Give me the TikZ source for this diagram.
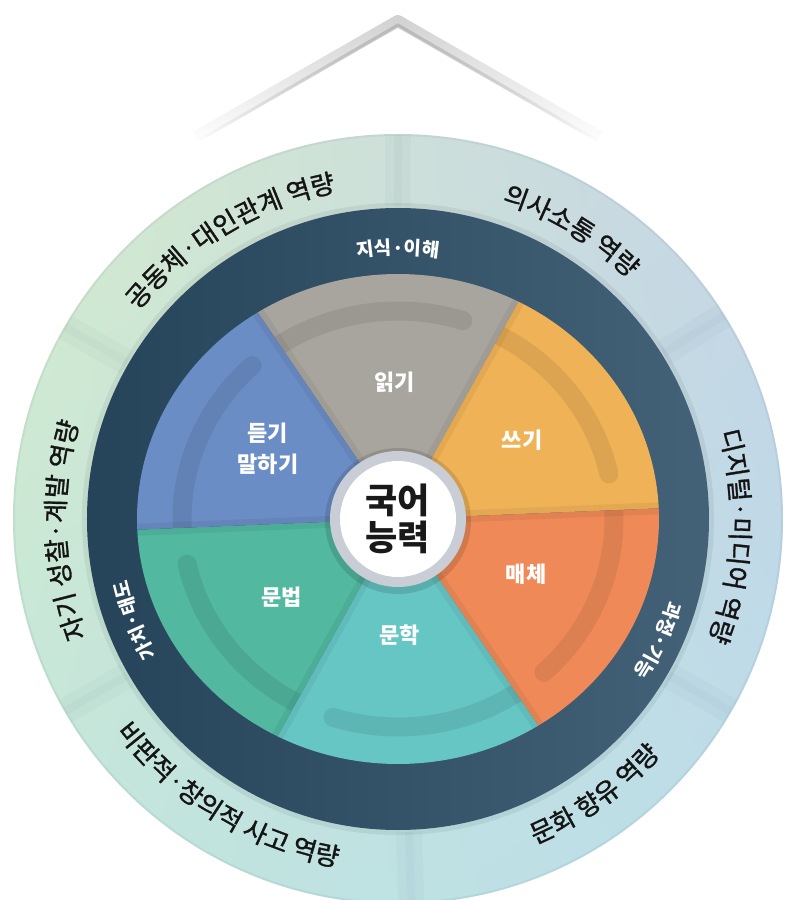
\documentclass[tikz,border=0pt]{standalone}
\usepackage{fontspec}
\usepackage{xcolor}
\usepackage{tikz}
\usetikzlibrary{decorations.text}
\usetikzlibrary{fadings}
\usetikzlibrary{shadings}
\newfontfamily\kr{Noto Sans CJK KR}
\newfontfamily\krm[FakeBold=1.2]{Noto Sans CJK KR}
\definecolor{readc}{HTML}{A8A59E}
\definecolor{writec}{HTML}{EFB257}
\definecolor{mediac}{HTML}{EF8A58}
\definecolor{litc}{HTML}{66C6C4}
\definecolor{gramc}{HTML}{52B8A0}
\definecolor{speakc}{HTML}{6B8DC5}
\definecolor{ringL}{HTML}{25445A}
\definecolor{ringM}{HTML}{3B596E}
\definecolor{ringR}{HTML}{436177}
\definecolor{coreg}{HTML}{C9CDD5}
\definecolor{outUL}{HTML}{D5EBCD}
\definecolor{outUR}{HTML}{C6D4E5}
\definecolor{outLL}{HTML}{C2E6DC}
\definecolor{outLR}{HTML}{BBDDEA}
\tikzfading[name=hangfade, top color=transparent!0, middle color=transparent!15, bottom color=transparent!100]
\newcommand\outerarc[4]{
  \path[decorate, decoration={text along path, text align=center, text color=black!92,
    text={|\krm\fontsize{26}{26}\selectfont|#4}}]
    (#2:#1) arc[start angle=#2, end angle=#3, radius=#1];
}
\newcommand\ringarc[4]{
  \path[decorate, decoration={text along path, text align=center, text color=white,
    text={|\kr\bfseries\fontsize{19}{19}\selectfont|#4}}]
    (#2:#1) arc[start angle=#2, end angle=#3, radius=#1];
}

\begin{document}
\begin{tikzpicture}[x=1pt, y=1pt,
    sector text/.style={text=white, font=\kr\bfseries\fontsize{22}{31}\selectfont, align=center},
    core text/.style={text=black!90, font=\kr\bfseries\fontsize{35}{37}\selectfont, align=center}]
  \useasboundingbox (-398,-381) rectangle (387,519);

  \draw[line width=12pt, black!18, line join=round, path fading=hangfade] (-202,382) -- (0,498) -- (202,382);
  \draw[line width=3pt, black!28, line join=round, path fading=hangfade] (-200,378) -- (0,494) -- (200,378);

  \shade[upper left=outUL, upper right=outUR, lower left=outLL, lower right=outLR] (0,0) circle (385);
  \foreach \a in {90,32,-30,-88,150,210}{
    \draw[line width=26pt, ringM, opacity=.03] (\a:313) -- (\a:384);
    \draw[line width=8pt, ringM, opacity=.03] (\a:313) -- (\a:384);
  }
  \draw[line width=2pt, ringR, opacity=.08] (0,0) circle (384);

  \fill[black, opacity=.06] (0,0) circle (316);
  \shade[left color=ringL, middle color=ringM, right color=ringR] (0,0) circle (311);

  \foreach \b/\col in {122.5/readc, 62.5/writec, 2.5/mediac, -57.5/litc, -117.5/gramc, 182.5/speakc}{
    \begin{scope}
      \clip (0,0) -- (\b-60:261 and 245) arc[start angle=\b-60, end angle=\b, x radius=261, y radius=245] -- cycle;
      \fill[\col] (-262,-262) rectangle (262,262);
      \draw[line width=19pt, line cap=round, black, opacity=.08]
        (\b+8:216 and 208) arc[start angle=\b+8, end angle=\b-50, x radius=216, y radius=208];
      \draw[line width=12pt, black, opacity=.05] (0,0) -- (\b:300 and 282) (0,0) -- (\b-60:300 and 282);
    \end{scope}
  }

  \fill[black, opacity=.12] (0,-2) circle (73);
  \fill[coreg] (0,0) circle (68);
  \fill[white] (0,0) circle (58);
  \node[core text] (core) at (0,0) {국어\\능력};

  \node[sector text] (read) at (-3,137) {읽기};
  \node[sector text] (write) at (124,79) {쓰기};
  \node[sector text] (media) at (128,-55) {매체};
  \node[sector text] (lit) at (2,-116) {문학};
  \node[sector text] (gram) at (-116,-78) {문법};
  \node[sector text] (speak) at (-130,70) {듣기\\말하기};

  \ringarc{264}{120}{60}{지식·이해}
  \ringarc{282}{5}{-55}{과정·기능}
  \ringarc{277}{231}{171}{가치·태도}

  \outerarc{333}{165}{77}{공동체·대인관계 역량}
  \outerarc{333}{100}{18}{의사소통 역량}
  \outerarc{333}{40}{-46}{디지털·미디어 역량}
  \outerarc{333}{225}{139}{자기 성찰·계발 역량}
  \outerarc{353}{-95}{-14}{문화 향유 역량}
  \outerarc{353}{195}{282}{비판적·창의적 사고 역량}
\end{tikzpicture}
\end{document}
